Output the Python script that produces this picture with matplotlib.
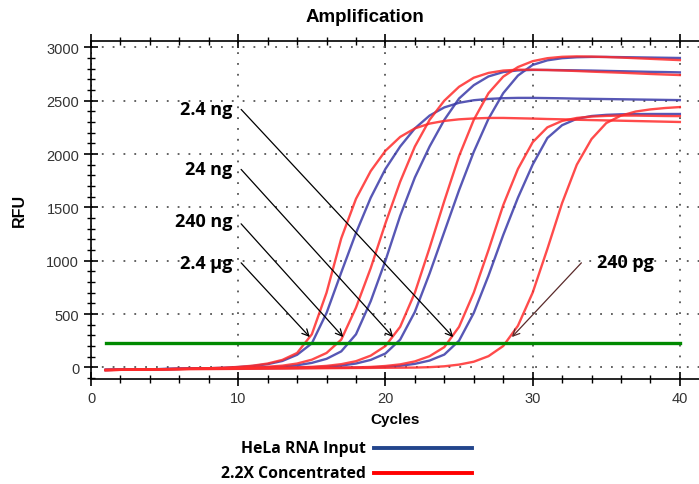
import matplotlib
matplotlib.use('Agg')
import matplotlib.pyplot as plt
from matplotlib.lines import Line2D
from matplotlib.ticker import MultipleLocator

# ── Data (RFU per cycle) ─────────────────────────────────────────────────────
cycles = list(range(1, 41))

# 2.2X Concentrated (red), 2.4 ug -> 240 pg
red_24ug = [-25, -23, -21, -19, -17, -15, -12, -8, -3, 4, 16, 36, 70, 135, 310, 700,
            1210, 1580, 1840, 2030, 2160, 2240, 2285, 2310, 2325, 2333, 2338, 2338,
            2335, 2332, 2328, 2325, 2321, 2318, 2315, 2312, 2309, 2306, 2303, 2300]
red_240ng = [-25, -23, -21, -19, -17, -15, -13, -11, -8, -5, -1, 6, 16, 36, 72, 135,
             260, 560, 930, 1350, 1740, 2070, 2320, 2500, 2630, 2715, 2760, 2782,
             2790, 2790, 2787, 2783, 2778, 2772, 2767, 2762, 2756, 2750, 2745, 2740]
red_24ng = [-25, -23, -21, -19, -17, -15, -13, -11, -9, -7, -5, -4, -2, 0, 5, 14,
            30, 58, 110, 200, 380, 700, 1120, 1560, 1980, 2320, 2570, 2725,
            2815, 2870, 2898, 2911, 2915, 2913, 2909, 2904, 2898, 2892, 2886, 2880]
red_24ng_low = [-25, -23, -21, -19, -17, -15, -13, -11, -10, -9, -8, -7, -6, -5, -4, -3,
                -2, 0, 4, 13, 28, 56, 105, 190, 380, 700, 1100, 1520,
                1860, 2110, 2250, 2310, 2338, 2351, 2357, 2360, 2360, 2358, 2356, 2355]
red_240pg = [-25, -23, -21, -20, -19, -18, -17, -16, -15, -14, -13, -12, -11, -10, -9, -8,
             -7, -6, -5, -4, -3, -2, 2, 10, 26, 53, 105, 200,
             390, 700, 1110, 1540, 1900, 2140, 2290, 2360, 2398, 2418, 2431, 2440]

# HeLa RNA Input (blue), 2.4 ug -> 2.4 ng
blue_24ug = [-24, -22, -20, -18, -16, -14, -11, -8, -4, 3, 13, 30, 60, 118, 225, 510,
             890, 1260, 1590, 1860, 2070, 2240, 2360, 2437, 2480, 2504, 2516, 2523,
             2526, 2526, 2524, 2522, 2519, 2517, 2515, 2513, 2511, 2509, 2507, 2505]
blue_240ng = [-24, -22, -20, -18, -16, -14, -12, -10, -8, -6, -4, 0, 7, 20, 42, 80,
              150, 310, 620, 1000, 1420, 1780, 2070, 2320, 2520, 2645, 2727, 2768,
              2784, 2788, 2788, 2786, 2784, 2782, 2779, 2776, 2773, 2770, 2768, 2765]
blue_24ng = [-24, -22, -20, -18, -16, -14, -12, -10, -8, -7, -5, -4, -3, -2, 1, 7,
             17, 36, 70, 130, 260, 520, 880, 1270, 1660, 2020, 2330, 2570,
             2735, 2835, 2878, 2898, 2907, 2910, 2910, 2908, 2906, 2904, 2902, 2900]
blue_24ng_low = [-24, -22, -20, -18, -16, -14, -13, -12, -11, -10, -9, -8, -7, -6, -5, -4,
                 -3, -2, 0, 5, 15, 33, 64, 120, 250, 510, 860, 1240,
                 1590, 1900, 2150, 2270, 2330, 2356, 2367, 2372, 2374, 2375, 2375, 2375]

red_series = [red_24ug, red_240ng, red_24ng, red_24ng_low, red_240pg]
blue_series = [blue_24ug, blue_240ng, blue_24ng, blue_24ng_low]

threshold = 230

# label, text position, arrow tail, arrow head (data coords)
annot_labels = ['2.4 ng', '24 ng', '240 ng', '2.4 µg']
annot_text_y = [2420, 1860, 1370, 975]
annot_tail_y = [2437, 1875, 1365, 999]
annot_head_x = [24.73, 20.65, 17.26, 14.99]

RED = '#ff2b2b'
BLUE = '#3a3aa8'

fig = plt.figure(figsize=(6.99, 4.85), dpi=100)
ax = fig.add_axes([91 / 699, 1 - 380 / 485, 608 / 699, (380 - 41.7) / 485])

for s in blue_series:
    ax.plot(cycles, s, color=BLUE, lw=1.7, alpha=0.85, zorder=3)
for s in red_series:
    ax.plot(cycles, s, color=RED, lw=1.7, alpha=0.85, zorder=3)

ax.plot([1, 40], [threshold, threshold], color='#008a00', lw=2.4, zorder=4)

# ── Axes ─────────────────────────────────────────────────────────────────────
ax.set_xlim(0, 41.3)
ax.set_ylim(-109, 3062)
ax.xaxis.set_major_locator(MultipleLocator(10))
ax.xaxis.set_minor_locator(MultipleLocator(2))
ax.yaxis.set_major_locator(MultipleLocator(500))
ax.yaxis.set_minor_locator(MultipleLocator(100))
ax.tick_params(which='major', direction='inout', length=10, width=1.2,
               top=True, labelsize=10.5, labelcolor='#333333')
ax.tick_params(which='minor', direction='inout', length=6, width=1.0, top=True)
ax.spines['right'].set_visible(False)
for sp in ('left', 'bottom', 'top'):
    ax.spines[sp].set_linewidth(1.2)
ax.grid(True, which='major', color='#555555', ls=(0, (1, 5)), lw=1.3)

for lab in ax.get_xticklabels() + ax.get_yticklabels():
    lab.set_family('Liberation Sans')

ax.set_xlabel('Cycles', fontsize=11, fontweight='bold', family='Liberation Sans', labelpad=5)
ax.set_ylabel('RFU', fontsize=11.5, fontweight='bold', family='Liberation Sans', labelpad=14)
fig.text(365 / 699, 1 - 17 / 485, 'Amplification', ha='center', va='center',
         fontsize=13.5, fontweight='bold', family='Liberation Sans')

# ── Annotations ──────────────────────────────────────────────────────────────
for lab, ty, tail_y, hx in zip(annot_labels, annot_text_y, annot_tail_y, annot_head_x):
    ax.text(9.6, ty, lab, ha='right', va='center', fontsize=13, fontweight='bold',
            family='Open Sans', zorder=6)
    ax.annotate('', xy=(hx, 265), xytext=(10.07, tail_y),
                arrowprops=dict(arrowstyle='->', color='black', lw=0.9,
                                mutation_scale=12), zorder=5)

ax.text(34.4, 990, '240 pg', ha='left', va='center', fontsize=13, fontweight='bold',
        family='Open Sans', zorder=6)
ax.annotate('', xy=(28.46, 265), xytext=(33.44, 999),
            arrowprops=dict(arrowstyle='->', color='#5a2a2a', lw=0.9,
                            mutation_scale=12), zorder=5)

# ── Legend below the axes ────────────────────────────────────────────────────
leg_items = [('HeLa RNA Input', '#23458c', 449), ('2.2X Concentrated', '#ff0000', 474)]
for text, color, ypx in leg_items:
    fig.text(366 / 699, 1 - ypx / 485, text, ha='right', va='center', fontsize=11.3,
             fontweight='bold', family='Open Sans')
    fig.add_artist(Line2D([374 / 699, 472 / 699], [1 - ypx / 485, 1 - ypx / 485],
                          color=color, lw=2.8, transform=fig.transFigure))

fig.savefig('out.png', dpi=100)
